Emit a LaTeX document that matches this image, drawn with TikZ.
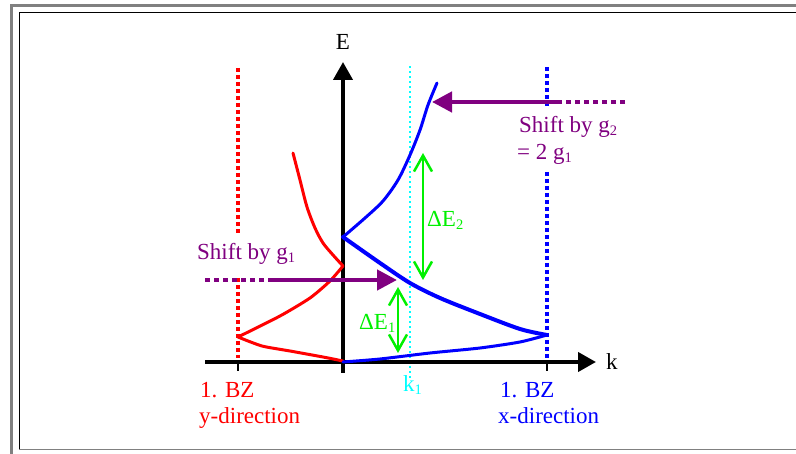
\documentclass[tikz,border=0pt]{standalone}
\usepackage{fontspec}
\setmainfont{Liberation Serif}
\usetikzlibrary{arrows.meta}
\definecolor{fgray}{RGB}{128,128,128}
\definecolor{cred}{RGB}{255,0,0}
\definecolor{cblue}{RGB}{0,0,255}
\definecolor{ccyan}{RGB}{0,255,255}
\definecolor{cgreen}{RGB}{0,240,0}
\definecolor{cpurple}{RGB}{128,0,128}
\newcommand\lowsub[1]{\raisebox{-3pt}{\fontsize{14.5}{14.5}\selectfont #1}}
\tikzset{
  txt/.style={inner sep=0pt, anchor=base west, font=\fontsize{23}{25}\selectfont},
  boxed/.style={fill=white, text=cpurple, inner xsep=2pt, inner ysep=8pt},
  axisline/.style={line width=4pt, -{Triangle[length=18pt,width=19pt]}},
  tickline/.style={line width=2.5pt},
  bzline/.style={line width=3.5pt, dash pattern=on 4pt off 3pt},
  kline/.style={ccyan, line width=2.5pt, dash pattern=on 2.5pt off 2.5pt},
  curve/.style={line width=3pt, line join=round, line cap=round},
  shiftdots/.style={cpurple, line width=3.5pt, dash pattern=on 5pt off 4pt},
  shiftarrow/.style={cpurple, line width=4.5pt, -{Triangle[length=20pt,width=20pt]}},
  deltaarrow/.style={cgreen, line width=2.5pt, {Straight Barb[length=16pt,width=18pt]}-{Straight Barb[length=16pt,width=18pt]}}
}
\begin{document}
\begin{tikzpicture}[x=1pt,y=-1pt]
\useasboundingbox (0,0) rectangle (796,454);
% frame
\draw[fgray, line width=3pt] (11.5,454) -- (11.5,5.5) -- (796,5.5);
\draw[black, line width=1.3pt] (19.5,449) -- (19.5,12.5) -- (796,12.5);
\draw[fgray, line width=1pt] (19,449.5) -- (796,449.5);
% BZ boundaries and k1
\coordinate (rzt) at (238,68); \coordinate (rzb) at (238,358);
\coordinate (bzt) at (547,67); \coordinate (bzb) at (547,358);
\coordinate (k1t) at (410,66); \coordinate (k1b) at (410,380);
\draw[bzline, cred] (rzt) -- (rzb);
\draw[kline] (k1t) -- (k1b);
\draw[bzline, cblue] (bzt) -- (bzb);
% shift labels (white boxes hide the dotted lines)
\node[txt, boxed] (s2) at (517,133) {Shift by g\lowsub{2}};
\node[txt, boxed, inner ysep=6pt] (s2b) at (515,160) {= 2 g\lowsub{1}};
\node[txt, boxed, inner ysep=10pt] (s1) at (195,260) {Shift by g\lowsub{1}};
% axes
\coordinate (Eb) at (343,373); \coordinate (Et) at (343,62);
\coordinate (kl) at (205,362); \coordinate (kr) at (596,362);
\draw[axisline] (Eb) -- (Et);
\draw[axisline] (kl) -- (kr);
\coordinate (t1a) at (238,362); \coordinate (t1b) at (238,371);
\coordinate (t2a) at (547,362); \coordinate (t2b) at (547,371);
\draw[tickline] (t1a) -- (t1b);
\draw[tickline] (t2a) -- (t2b);
\node[txt, anchor=base] (E) at (343,50) {E};
\node[txt] (k) at (606,370) {k};
% red bands
\draw[curve, cred] plot[smooth, tension=0.5] coordinates {(293,153) (300,180) (307,207) (315,228) (323,243) (333,255) (343,266)};
\draw[curve, cred] plot[smooth, tension=0.4] coordinates {(343,266) (330,281) (310,298) (280,316) (238,337)};
\draw[curve, cred] plot[smooth, tension=0.4] coordinates {(238,337) (262,346) (290,351) (323,357) (343,361)};
% blue bands
\draw[curve, cblue] plot[smooth, tension=0.4] coordinates {(343,362) (380,359) (430,353) (480,348) (520,342) (547,335)};
\draw[curve, cblue, line width=4pt] plot[smooth, tension=0.5] coordinates {(547,335) (520,329) (480,314) (440,298) (410,283) (380,263) (343,237)};
\draw[curve, cblue] plot[smooth, tension=0.5] coordinates {(343,237) (365,218) (383,201) (398,180) (410,155) (420,130) (428,105) (437,83)};
% shift arrows
\coordinate (p2s) at (625,102); \coordinate (p2m) at (560,102); \coordinate (p2t) at (432,102);
\draw[shiftdots] (p2s) -- (p2m);
\draw[shiftarrow] (p2m) -- (p2t);
\coordinate (p1s) at (205,280); \coordinate (p1m) at (268,280); \coordinate (p1t) at (397,280);
\draw[shiftdots] (p1s) -- (p1m);
\draw[shiftarrow] (p1m) -- (p1t);
% energy differences
\coordinate (d2t) at (423,153); \coordinate (d2b) at (423,280);
\coordinate (d1t) at (398,287); \coordinate (d1b) at (398,353);
\draw[deltaarrow] (d2t) -- (d2b);
\draw[deltaarrow] (d1t) -- (d1b);
% labels
\node[txt, text=cgreen] (dE2) at (427,227) {ΔE\lowsub{2}};
\node[txt, text=cgreen] (dE1) at (359,330) {ΔE\lowsub{1}};
\node[txt, text=ccyan] (k1) at (403,392) {k\lowsub{1}};
\node[txt, text=cred] (bzy1) at (200,398) {1. BZ};
\node[txt, text=cred] (bzy2) at (199,424) {y-direction};
\node[txt, text=cblue] (bzx1) at (500,398) {1. BZ};
\node[txt, text=cblue] (bzx2) at (498,424) {x-direction};
\end{tikzpicture}
\end{document}
